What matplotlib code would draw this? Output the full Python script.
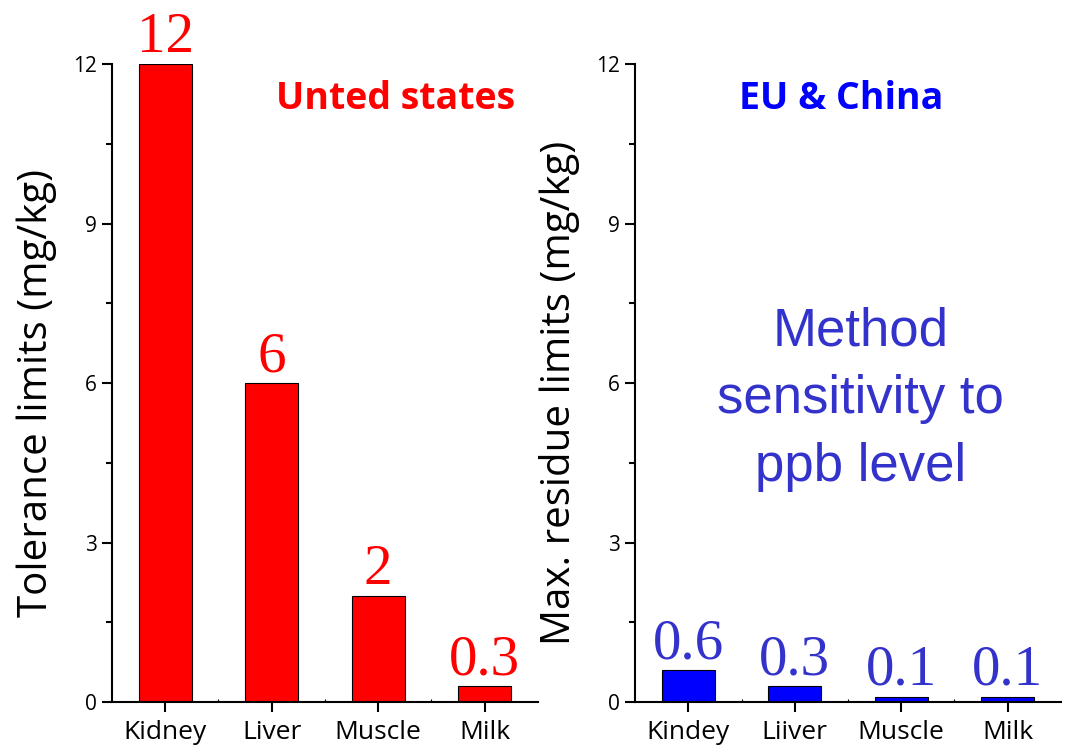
import matplotlib
matplotlib.use("Agg")
import matplotlib.pyplot as plt
import numpy as np
from matplotlib.ticker import MultipleLocator, FixedLocator

# datos
us_tissues = ["Kidney", "Liver", "Muscle", "Milk"]
us_limits = [12, 6, 2, 0.3]
us_labels = ["12", "6", "2", "0.3"]

eu_tissues = ["Kindey", "Liiver", "Muscle", "Milk"]
eu_limits = [0.6, 0.3, 0.1, 0.1]
eu_labels = ["0.6", "0.3", "0.1", "0.1"]

yticks = [0, 3, 6, 9, 12]

plt.rcParams['font.family'] = ['Open Sans', 'DejaVu Sans']

fig = plt.figure(figsize=(10.66, 7.51), dpi=100)
ax1 = fig.add_axes([0.105, 0.0652, 0.3996, 0.8495])
ax2 = fig.add_axes([0.5957, 0.0652, 0.3996, 0.8495])


def dibujar(ax, tejidos, valores, etiquetas, color_barra, color_texto, ylabel):
    x = np.arange(len(tejidos))
    ax.bar(x, valores, width=0.5, color=color_barra, edgecolor='black', linewidth=0.8, zorder=2)
    for xi, v, t in zip(x, valores, etiquetas):
        ax.annotate(t, (xi, v), xytext=(0, 0), textcoords='offset points',
                    ha='center', va='bottom', fontsize=41, color=color_texto,
                    family='Liberation Serif')
    ax.set_xlim(-0.5, 3.5)
    ax.set_ylim(0, 12)
    ax.set_yticks(yticks)
    ax.yaxis.set_minor_locator(MultipleLocator(1.5))
    ax.set_xticks(x)
    ax.set_xticklabels(tejidos, fontsize=19)
    ax.xaxis.set_minor_locator(FixedLocator([0.5, 1.5, 2.5]))
    ax.tick_params(axis='y', which='major', direction='out', length=7, width=1.5, labelsize=15, pad=4)
    ax.tick_params(axis='y', which='minor', direction='out', length=4, width=1.5)
    ax.tick_params(axis='x', which='major', direction='out', length=7, width=1.5, pad=6)
    ax.tick_params(axis='x', which='minor', direction='in', length=2, width=0.8)
    for s in ['top', 'right']:
        ax.spines[s].set_visible(False)
    for s in ['left', 'bottom']:
        ax.spines[s].set_linewidth(1.5)
    ax.set_ylabel(ylabel, fontsize=29)
    ax.yaxis.set_label_coords(-0.129, 0.485)
    ax.patch.set_visible(False)


dibujar(ax1, us_tissues, us_limits, us_labels, '#ff0000', '#ff0000', 'Tolerance limits (mg/kg)')
dibujar(ax2, eu_tissues, eu_limits, eu_labels, '#0000ff', '#3333cc', 'Max. residue limits (mg/kg)')

ax1.text(0.665, 0.946, 'Unted states', transform=ax1.transAxes, ha='center', va='center',
         fontsize=27, fontweight='bold', color='#ff0000')
ax2.text(0.485, 0.946, 'EU & China', transform=ax2.transAxes, ha='center', va='center',
         fontsize=27, fontweight='bold', color='#0000ff')
ax2.text(0.53, 0.475, 'Method\nsensitivity to\nppb level', transform=ax2.transAxes,
         ha='center', va='center', fontsize=38, color='#3333cc',
         family='Liberation Sans', linespacing=1.45)

fig.savefig('out.png', dpi=100)
